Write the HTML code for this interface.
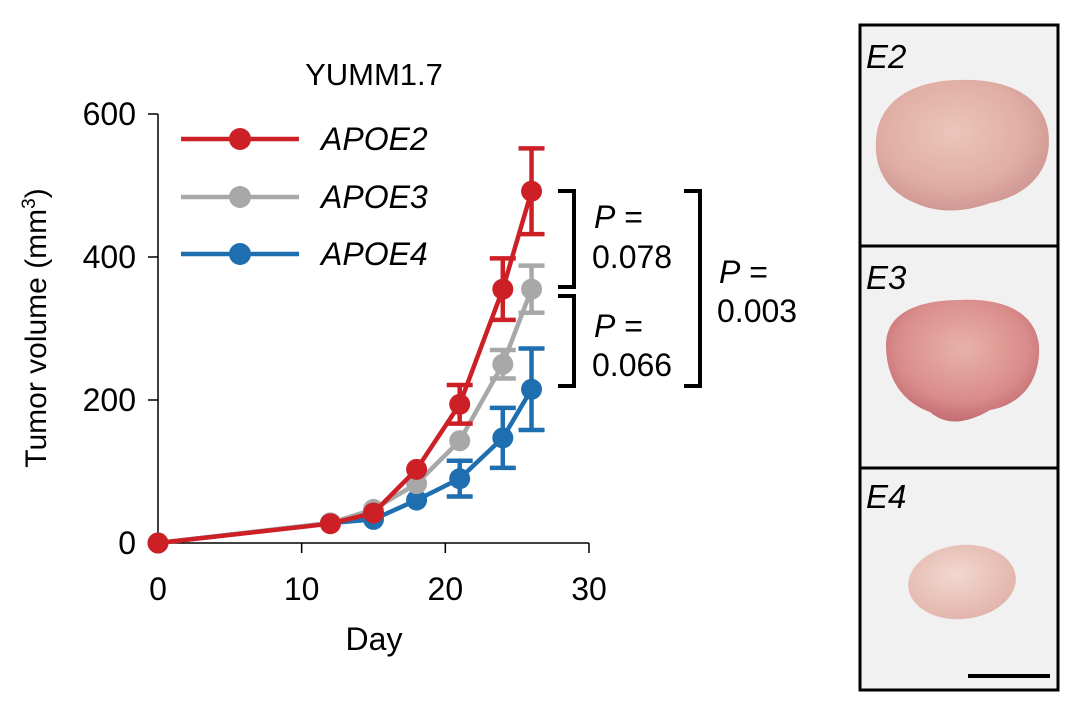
<!DOCTYPE html>
<html><head><meta charset="utf-8"><style>
body{margin:0;background:#fff;width:1080px;height:709px;overflow:hidden;font-family:"Liberation Sans",sans-serif}
</style></head><body>
<svg width="1080" height="709" xmlns="http://www.w3.org/2000/svg">
<defs>
<radialGradient id="g2" cx="45%" cy="40%" r="60%"><stop offset="0" stop-color="#ebc6ba"/><stop offset="0.7" stop-color="#e0ada4"/><stop offset="1" stop-color="#d09893"/></radialGradient>
<radialGradient id="g3" cx="50%" cy="40%" r="60%"><stop offset="0" stop-color="#e7b3a8"/><stop offset="0.7" stop-color="#da8d8b"/><stop offset="1" stop-color="#c46c74"/></radialGradient>
<radialGradient id="g4" cx="45%" cy="40%" r="60%"><stop offset="0" stop-color="#f2d8ce"/><stop offset="1" stop-color="#e2b5ac"/></radialGradient>
</defs>
<g id="chart"></g>
<text x="374" y="85" font-size="31" text-anchor="middle">YUMM1.7</text>
<text transform="translate(46,328) rotate(-90)" font-size="30" text-anchor="middle">Tumor volume (mm<tspan dy="-11" font-size="19">3</tspan><tspan dy="11">)</tspan></text>
<text x="374" y="650" font-size="32" text-anchor="middle">Day</text>
<g stroke="#000" stroke-width="4" fill="none">
<path d="M558,191 H574 V287 H558"/><path d="M558,296 H574 V386 H558"/><path d="M684,191 H700 V386 H684"/>
</g>
<g font-size="32">
<text x="594" y="228"><tspan font-style="italic">P</tspan> =</text><text x="592" y="268">0.078</text>
<text x="594" y="337"><tspan font-style="italic">P</tspan> =</text><text x="592" y="376">0.066</text>
<text x="719" y="283"><tspan font-style="italic">P</tspan> =</text><text x="717" y="322">0.003</text>
</g>
<g>
<rect x="860" y="25" width="198" height="665" fill="#f1f1f1" stroke="#000" stroke-width="3"/>
<line x1="860" y1="246" x2="1058" y2="246" stroke="#000" stroke-width="3"/>
<line x1="860" y1="468" x2="1058" y2="468" stroke="#000" stroke-width="3"/>
<path d="M876,140 C878,100 915,80 960,80 C1005,78 1042,95 1048,130 C1054,168 1030,195 990,203 C960,214 935,212 915,203 C888,192 874,170 876,140Z" fill="url(#g2)"/>
<path d="M886,345 C886,312 920,300 960,300 C1000,298 1035,310 1039,345 C1041,382 1020,405 990,410 C965,425 945,425 930,412 C902,402 886,378 886,345Z" fill="url(#g3)"/>
<ellipse cx="962" cy="582" rx="54" ry="37" fill="url(#g4)" transform="rotate(-6 962 582)"/>
<g font-size="33" font-style="italic"><text x="866" y="68">E2</text><text x="866" y="289">E3</text><text x="866" y="508">E4</text></g>
<line x1="968" y1="676" x2="1050" y2="676" stroke="#000" stroke-width="4"/>
</g>
</svg>
<script>
const days=[0,12,15,18,21,24,26];
const apoe2=[0,27,42,103,194,355,492];
const apoe2Err=[0,0,0,0,27,43,60];
const apoe3=[0,28,47,83,143,250,355];
const apoe3Err=[0,0,0,0,0,20,33];
const apoe4=[0,28,33,60,90,147,215];
const apoe4Err=[0,0,0,0,25,42,57];
const xTicks=[0,10,20,30];
const yTicks=[0,200,400,600];
const NS="http://www.w3.org/2000/svg";
const g=document.getElementById('chart');
const X=v=>158+v*(589-158)/30;
const Y=v=>543-v*(543-114)/600;
function mk(t,a,p){const e=document.createElementNS(NS,t);for(const k in a)e.setAttribute(k,a[k]);(p||g).appendChild(e);return e;}
let ax=mk('path',{d:`M${X(0)},${Y(0)} H${X(30)} M${X(0)},${Y(0)} V${Y(600)}`,stroke:'#000','stroke-width':1.5,fill:'none'});


xTicks.forEach(t=>{const l=mk('line',{x1:X(t),x2:X(t),y1:Y(0),y2:Y(0)+10,stroke:'#000','stroke-width':1.5});


const tx=mk('text',{x:X(t),y:Y(0)+57,'font-size':32,'text-anchor':'middle'});tx.textContent=t;

});
yTicks.forEach(t=>{const l=mk('line',{x1:X(0)-10,x2:X(0),y1:Y(t),y2:Y(t),stroke:'#000','stroke-width':1.5});


const tx=mk('text',{x:X(0)-22,y:Y(t)+11,'font-size':32,'text-anchor':'end'});tx.textContent=t;

});
const series=[['apoe4',apoe4,apoe4Err,'#1f6fb0'],['apoe3',apoe3,apoe3Err,'#a8a8a8'],['apoe2',apoe2,apoe2Err,'#cc2026']];
series.forEach(([n,vals,err,c])=>{
const sg=mk('g',{});


const pl=mk('polyline',{points:days.map((d,i)=>X(d)+','+Y(vals[i])).join(' '),stroke:c,'stroke-width':4.5,fill:'none'},sg);


days.forEach((d,i)=>{
if(err[i]>0){const x=X(d),y1=Y(vals[i]+err[i]),y2=Y(vals[i]-err[i]);
const e=mk('path',{d:`M${x},${y1} V${y2} M${x-13},${y1} H${x+13} M${x-13},${y2} H${x+13}`,stroke:c,'stroke-width':4.5,fill:'none'},sg);

}
const p=mk('circle',{cx:X(d),cy:Y(vals[i]),r:10.5,fill:c},sg);

});
});
const leg=[['APOE2','#cc2026',139],['APOE3','#a8a8a8',197],['APOE4','#1f6fb0',254]];
leg.forEach(([t,c,y])=>{const lg=mk('g',{});


mk('line',{x1:181,x2:299,y1:y,y2:y,stroke:c,'stroke-width':4.5},lg);
mk('circle',{cx:240,cy:y,r:11,fill:c},lg);
const tx=mk('text',{x:321,y:y+11,'font-size':32,'font-style':'italic'},lg);tx.textContent=t;});
</script>
</body></html>
